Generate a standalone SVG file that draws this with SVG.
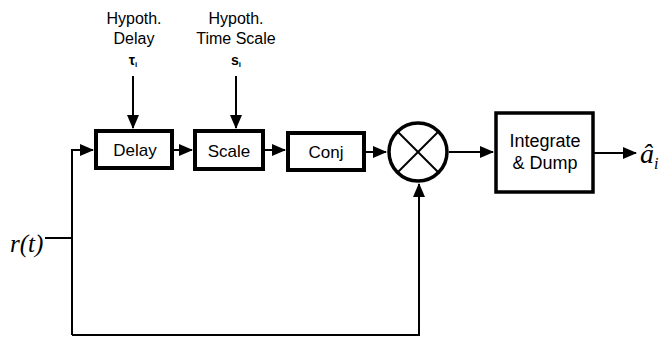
<svg xmlns="http://www.w3.org/2000/svg" width="663" height="339" viewBox="0 0 663 339">
<style>
.box{fill:#fff;stroke:#000;stroke-width:4}
.ln{fill:none;stroke:#000;stroke-width:2}
.t{font-family:"Liberation Sans",Arial,sans-serif;font-size:16px;fill:#000;text-anchor:middle}
.m{font-family:"Liberation Serif","Times New Roman",serif;font-style:italic;fill:#000}
</style>
<defs>
<marker id="ah" markerUnits="userSpaceOnUse" markerWidth="14" markerHeight="12" refX="13" refY="6" orient="auto">
<path d="M0,0 L14,6 L0,12 Z" fill="#000"/>
</marker>
</defs>
<g id="connectors">
<line class="ln" x1="133" y1="76" x2="133" y2="128" marker-end="url(#ah)"/>
<line class="ln" x1="236" y1="76" x2="236" y2="128" marker-end="url(#ah)"/>
<line class="ln" x1="45" y1="238" x2="72" y2="238"/>
<polyline class="ln" points="72,335 72,150 93,150" marker-end="url(#ah)"/>
<polyline class="ln" points="72,335 419,335 419,184" marker-end="url(#ah)"/>
<line class="ln" x1="172" y1="150" x2="192" y2="150" marker-end="url(#ah)"/>
<line class="ln" x1="263" y1="150" x2="285" y2="150" marker-end="url(#ah)"/>
<line class="ln" x1="364" y1="152" x2="386" y2="152" marker-end="url(#ah)"/>
<line class="ln" x1="449" y1="152" x2="493" y2="152" marker-end="url(#ah)"/>
<line class="ln" x1="594" y1="153" x2="636" y2="153" marker-end="url(#ah)"/>
</g>
<g id="label-delay-in">
<text class="t" x="134" y="24">Hypoth.</text>
<text class="t" x="134" y="44">Delay</text>
<text class="t" x="133" y="65" style="font-size:14px;font-weight:bold">τ<tspan dy="2" style="font-size:8px">i</tspan></text>
</g>
<g id="label-scale-in">
<text class="t" x="236" y="24">Hypoth.</text>
<text class="t" x="236" y="44">Time Scale</text>
<text class="t" x="236" y="65" style="font-size:14px;font-weight:bold">s<tspan dy="2" style="font-size:8px">i</tspan></text>
</g>
<g id="delay">
<rect class="box" x="96" y="131" width="76" height="37"/>
<text class="t" x="135" y="156" style="font-size:17px">Delay</text>
</g>
<g id="scale">
<rect class="box" x="195" y="131" width="68" height="38"/>
<text class="t" x="229" y="157" style="font-size:17px">Scale</text>
</g>
<g id="conj">
<rect class="box" x="288" y="133" width="76" height="37"/>
<text class="t" x="326" y="158" style="font-size:17px">Conj</text>
</g>
<g id="mixer">
<circle cx="418" cy="152" r="29" fill="#fff" stroke="#000" stroke-width="3.5"/>
<line class="ln" x1="397.5" y1="131.5" x2="438.5" y2="172.5"/>
<line class="ln" x1="438.5" y1="131.5" x2="397.5" y2="172.5"/>
</g>
<g id="integrate">
<rect class="box" x="496" y="113" width="97" height="79" style="stroke-width:3.5"/>
<text class="t" x="545" y="147" style="font-size:18px">Integrate</text>
<text class="t" x="545" y="169" style="font-size:18px">&amp; Dump</text>
</g>
<g id="input">
<text class="m" x="10" y="252" style="font-size:25px">r(t)</text>
</g>
<g id="output">
<text class="m" x="640" y="163" style="font-size:28px">â<tspan dy="6" style="font-size:16px">i</tspan></text>
</g>
</svg>
